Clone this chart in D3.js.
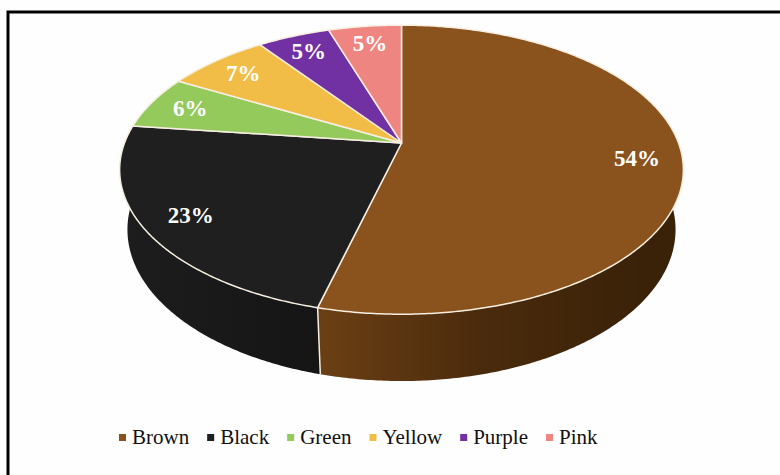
<!DOCTYPE html>
<html><head><meta charset="utf-8">
<script src="https://cdn.jsdelivr.net/npm/d3@7"></script>
<style>
body{margin:0;background:#fff}
svg{display:block}
text{font-family:"Liberation Serif","Times New Roman",Times,serif}
</style>
</head><body>
<svg id="c" width="780" height="475"></svg>
<script>
// ---- data ----
const categories = ["Brown", "Black", "Green", "Yellow", "Purple", "Pink"];
const values = [54, 23, 6, 7, 5, 5];
const labels = ["54%", "23%", "6%", "7%", "5%", "5%"];

// ---- styles ----
const topColors = ["#8a531e", "#1f1f20", "#93ca5b", "#f2bd47", "#7131a2", "#ee8580"];
const sideColors = ["url(#brownSide)", "url(#blackSide)", "#6c9a3e", "#c1922e", "#4f1f75", "#bb5e5a"];

const svg = d3.select("#c");
svg.append("rect").attr("width", 780).attr("height", 475).attr("fill", "#fefefe");

const defs = svg.append("defs");
const g1 = defs.append("linearGradient").attr("id", "brownSide").attr("gradientUnits", "userSpaceOnUse")
  .attr("x1", 315).attr("y1", 0).attr("x2", 640).attr("y2", 0);
g1.append("stop").attr("offset", 0).attr("stop-color", "#6c4014");
g1.append("stop").attr("offset", 0.5).attr("stop-color", "#4b2b0d");
g1.append("stop").attr("offset", 1).attr("stop-color", "#3a2208");
const g2 = defs.append("linearGradient").attr("id", "blackSide").attr("gradientUnits", "userSpaceOnUse")
  .attr("x1", 120).attr("y1", 0).attr("x2", 315).attr("y2", 0);
g2.append("stop").attr("offset", 0).attr("stop-color", "#1d1d1d");
g2.append("stop").attr("offset", 1).attr("stop-color", "#151515");

// frame
svg.append("path").attr("d", "M8,475 L8,12 L780,12").attr("fill", "none")
  .attr("stroke", "#000").attr("stroke-width", 3);

// ---- 3D projection ----
const cx = 401.5, cy = 143, k = 277;
const sinA = 0.504, cosA = Math.sqrt(1 - sinA * sinA);
const Dd = 1 / 0.2138;
const h = 0.255;
function proj(theta, r, y3) {
  const X = r * Math.sin(theta), Z = -r * Math.cos(theta);
  const down = Z * sinA - y3 * cosA;
  const depth = Z * cosA + y3 * sinA;
  const s = Dd / (Dd - depth);
  return [cx + k * X * s, cy + k * down * s];
}
function arcPts(a0, a1, r, y3) {
  const n = Math.max(2, Math.ceil((a1 - a0) / 0.01));
  return d3.range(n + 1).map(i => proj(a0 + (a1 - a0) * i / n, r, y3));
}
const line = d3.line();

const arcs = d3.pie().sort(null).value(d => d)(values);

// sides (front half only)
const gSide = svg.append("g");
arcs.forEach((a, i) => {
  const lo = Math.max(a.startAngle, Math.PI / 2), hi = Math.min(a.endAngle, 3 * Math.PI / 2);
  if (lo >= hi) return;
  const pts = arcPts(lo, hi, 1, 0).concat(arcPts(lo, hi, 1, -h).reverse());
  gSide.append("path").attr("d", line(pts) + "Z").attr("fill", sideColors[i]);
});
// vertical separators on side
arcs.forEach(a => {
  const t = a.endAngle;
  if (t > Math.PI / 2 && t < 3 * Math.PI / 2) {
    gSide.append("path").attr("d", line([proj(t, 1, 0), proj(t, 1, -h)]))
      .attr("stroke", "#f6eee0").attr("stroke-width", 1.5).attr("fill", "none");
  }
});

// top face
const gTop = svg.append("g");
arcs.forEach((a, i) => {
  const pts = [proj(0, 0, 0)].concat(arcPts(a.startAngle, a.endAngle, 1, 0));
  gTop.append("path").attr("d", line(pts) + "Z").attr("fill", topColors[i])
    .attr("stroke", "#f6eee0").attr("stroke-width", 1.5).attr("stroke-linejoin", "round");
});

// labels along each slice's mid angle
const gLab = svg.append("g");
arcs.forEach((a, i) => {
  const mid = (a.startAngle + a.endAngle) / 2;
  const p = proj(mid, 0.84, 0);
  gLab.append("text").attr("x", p[0]).attr("y", p[1]).attr("dy", "0.35em")
    .attr("text-anchor", "middle")
    .style("font-weight", "bold").style("font-size", "23px")
    .attr("fill", "#ffffff").text(labels[i]);
});

// legend
const gLeg = svg.append("g");
let lx = 119;
categories.forEach((c, i) => {
  gLeg.append("rect").attr("x", lx).attr("y", 434).attr("width", 7).attr("height", 7).attr("fill", topColors[i]);
  const t = gLeg.append("text").attr("x", lx + 13).attr("y", 444)
    .style("font-size", "21px").attr("fill", "#111").text(c);
  lx += 13 + t.node().getComputedTextLength() + 18;
});
</script>
</body></html>
